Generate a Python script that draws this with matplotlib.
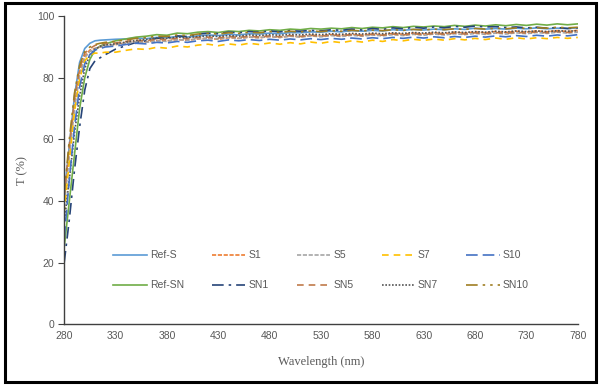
import matplotlib
matplotlib.use("Agg")
import matplotlib.pyplot as plt
from matplotlib.patches import Rectangle

# wavelength grid (nm)
wavelength = [280, 285, 290, 295, 300, 305, 310, 315, 320] + list(range(330, 790, 10))

ref_s = [42, 58, 74, 85, 89.5, 91.2, 92, 92.2, 92.3,
         92.5, 92.6, 92.9, 92.7, 93.1, 93.0, 93.4, 93.2, 93.6, 93.9,
         93.7, 94.1, 93.9, 94.3, 94.2, 94.5, 94.3, 94.7, 94.6, 94.9,
         94.8, 95.1, 94.9, 95.3, 95.1, 95.4, 95.2, 95.6, 95.4, 95.7,
         95.5, 95.8, 95.6, 95.9, 95.7, 96.1, 95.8, 96.0, 95.8, 96.1,
         95.9, 96.2, 95.9, 96.1, 96.0, 96.2]
s1 = [40, 56, 71, 82, 87, 89, 89.5, 90, 90.5,
      90.8, 91.3, 91.8, 91.6, 92.1, 92.0, 92.4, 92.2, 92.6, 92.8,
      92.5, 93.0, 92.8, 93.2, 93.0, 93.4, 93.1, 93.6, 93.3, 93.8,
      93.5, 94.0, 93.7, 94.1, 93.8, 94.2, 93.9, 94.4, 94.1, 94.5,
      94.2, 94.6, 94.3, 94.8, 94.5, 94.9, 94.6, 95.0, 94.7, 95.1,
      94.8, 95.2, 94.9, 95.3, 95.0, 95.4]
s5 = [38, 55, 70, 80.5, 86.5, 88.5, 89.5, 90, 90.5,
      90.8, 91.2, 91.7, 91.5, 92.0, 91.8, 92.4, 92.2, 92.7, 92.9,
      92.6, 93.1, 92.8, 93.2, 93.0, 93.4, 93.1, 93.5, 93.2, 93.6,
      93.3, 93.7, 93.4, 93.8, 93.5, 93.9, 93.6, 94.0, 93.7, 94.1,
      93.8, 94.2, 93.9, 94.3, 94.0, 94.4, 94.1, 94.5, 94.2, 94.6,
      94.3, 94.7, 94.4, 94.8, 94.5, 94.8]
s7 = [36, 53, 69, 79.5, 85.5, 87.5, 88, 88, 88.3,
      88.3, 88.9, 89.4, 89.2, 89.9, 89.6, 90.3, 90.0, 90.6, 90.9,
      90.4, 91.0, 90.6, 91.2, 90.8, 91.3, 90.9, 91.4, 91.0, 91.6,
      91.2, 91.8, 91.4, 92.0, 91.6, 92.2, 91.8, 92.4, 92.0, 92.5,
      92.1, 92.6, 92.2, 92.7, 92.3, 92.8, 92.4, 92.9, 92.5, 93.0,
      92.6, 93.0, 92.7, 93.1, 92.8, 93.1]
s10 = [28, 47, 64, 77, 84.5, 87.5, 89, 89.5, 90,
       90.3, 90.8, 91.2, 91.0, 91.5, 91.3, 91.8, 91.5, 92.0, 92.2,
       91.8, 92.3, 92.0, 92.4, 92.1, 92.5, 92.2, 92.6, 92.3, 92.7,
       92.4, 92.8, 92.5, 92.9, 92.6, 93.0, 92.7, 93.1, 92.8, 93.2,
       92.9, 93.3, 93.0, 93.4, 93.1, 93.5, 93.2, 93.6, 93.3, 93.7,
       93.4, 93.8, 93.5, 93.9, 93.6, 94.0]
ref_sn = [25, 40, 55, 70, 80, 86, 89, 90.3, 91,
          92.0, 92.6, 93.2, 93.5, 94.0, 93.8, 94.5, 94.3, 94.8, 95.0,
          94.7, 95.2, 95.0, 95.4, 95.2, 95.6, 95.4, 95.8, 95.6, 96.0,
          95.8, 96.1, 95.9, 96.3, 96.0, 96.4, 96.2, 96.6, 96.3, 96.7,
          96.5, 96.8, 96.6, 97.0, 96.7, 97.1, 96.8, 97.2, 96.9, 97.3,
          97.0, 97.4, 97.1, 97.5, 97.2, 97.5]
sn1 = [20, 34, 50, 64, 76, 83, 85.5, 86.5, 87.5,
       89.3, 90.4, 91.5, 92.0, 92.8, 93.0, 93.6, 93.4, 94.2, 94.5,
       94.3, 94.8, 94.6, 95.0, 94.8, 95.2, 94.9, 95.3, 95.1, 95.4,
       95.2, 95.6, 95.4, 95.8, 95.5, 96.0, 95.7, 96.2, 95.9, 96.4,
       96.1, 96.5, 96.2, 96.7, 96.4, 96.8, 96.5, 96.6, 96.3, 96.5,
       96.2, 96.4, 96.1, 96.3, 96.0, 96.2]
sn5 = [42, 58, 73, 83, 88, 89.5, 90.5, 91, 91.2,
       91.3, 91.8, 92.2, 92.0, 92.6, 92.4, 92.9, 92.7, 93.1, 93.2,
       92.9, 93.4, 93.1, 93.5, 93.2, 93.6, 93.3, 93.7, 93.4, 93.8,
       93.5, 93.9, 93.6, 94.0, 93.7, 94.1, 93.8, 94.2, 93.9, 94.3,
       94.0, 94.4, 94.1, 94.5, 94.2, 94.6, 94.3, 94.7, 94.4, 94.8,
       94.5, 94.9, 94.6, 95.0, 94.7, 95.0]
sn7 = [33, 47, 62, 74, 83, 87.5, 89.3, 90.2, 90.7,
       91.0, 91.6, 92.1, 92.4, 92.9, 92.8, 93.2, 93.0, 93.4, 93.6,
       93.4, 93.7, 93.5, 93.9, 93.7, 94.0, 93.8, 94.1, 93.9, 94.2,
       94.0, 94.3, 94.1, 94.4, 94.2, 94.5, 94.3, 94.6, 94.4, 94.7,
       94.5, 94.8, 94.6, 94.9, 94.7, 95.0, 94.8, 95.1, 94.9, 95.2,
       95.0, 95.2, 95.0, 95.3, 95.1, 95.3]
sn10 = [42, 60, 75, 84, 88.5, 90, 90.8, 91.2, 91.5,
        91.8, 92.3, 92.8, 93.0, 93.5, 93.4, 93.9, 93.7, 94.2, 94.4,
        94.2, 94.6, 94.4, 94.8, 94.6, 95.0, 94.7, 95.1, 94.9, 95.2,
        95.0, 95.3, 95.1, 95.4, 95.2, 95.5, 95.3, 95.6, 95.4, 95.7,
        95.5, 95.8, 95.6, 95.9, 95.7, 96.0, 95.8, 96.1, 95.9, 96.2,
        96.0, 96.3, 96.1, 96.4, 96.2, 96.4]

x_ticks = list(range(280, 781, 50))
y_ticks = [0, 20, 40, 60, 80, 100]

# (label, data, color, dash pattern); order gives two legend rows with ncol=5
series = [
    ("Ref-S", ref_s, "#5B9BD5", None),
    ("Ref-SN", ref_sn, "#70AD47", None),
    ("S1", s1, "#ED7D31", (2.5, 1)),
    ("SN1", sn1, "#264478", (7, 3, 1.5, 3)),
    ("S5", s5, "#A5A5A5", (2.5, 1)),
    ("SN5", sn5, "#C07A4A", (4, 3)),
    ("S7", s7, "#FFC000", (4, 3)),
    ("SN7", sn7, "#555555", (1, 1)),
    ("S10", s10, "#4472C4", (7, 3)),
    ("SN10", sn10, "#A07E22", (7, 3, 1.5, 3, 1.5, 3)),
]

fig = plt.figure(figsize=(6.0, 3.85), dpi=100)
ax = fig.add_axes([0.107, 0.158, 0.856, 0.8])

for label, vals, color, dashes in series:
    line, = ax.plot(wavelength, vals, color=color, lw=1.2, label=label)
    if dashes:
        line.set_dashes(dashes)

ax.set_xlim(280, 780)
ax.set_ylim(0, 100)
ax.set_xticks(x_ticks)
ax.set_yticks(y_ticks)
ax.tick_params(axis="both", labelsize=7.5, labelcolor="#595959", colors="#404040")
ax.tick_params(axis="x", length=0, pad=5)
ax.tick_params(axis="y", length=4, width=0.8, pad=3)
for lab in ax.get_xticklabels() + ax.get_yticklabels():
    lab.set_family("Liberation Sans")
for side in ("top", "right"):
    ax.spines[side].set_visible(False)
for side in ("left", "bottom"):
    ax.spines[side].set_color("#404040")
    ax.spines[side].set_linewidth(1.0)

ax.set_xlabel("Wavelength (nm)", family="Liberation Serif", fontsize=9, color="#595959", labelpad=11)
ax.set_ylabel("T (%)", family="Liberation Serif", fontsize=9, color="#595959", labelpad=6)

ax.legend(ncol=5, loc="lower center", bbox_to_anchor=(0.5, 0.08), frameon=False,
          prop={"family": "Liberation Sans", "size": 7.5}, labelcolor="#595959",
          handlelength=3.2, handletextpad=0.3, columnspacing=2.7, labelspacing=1.9)

fig.patches.append(Rectangle((0.009, 0.008), 0.984, 0.984, transform=fig.transFigure,
                             fill=False, edgecolor="black", linewidth=2.2))

fig.savefig("out.png", dpi=100)
